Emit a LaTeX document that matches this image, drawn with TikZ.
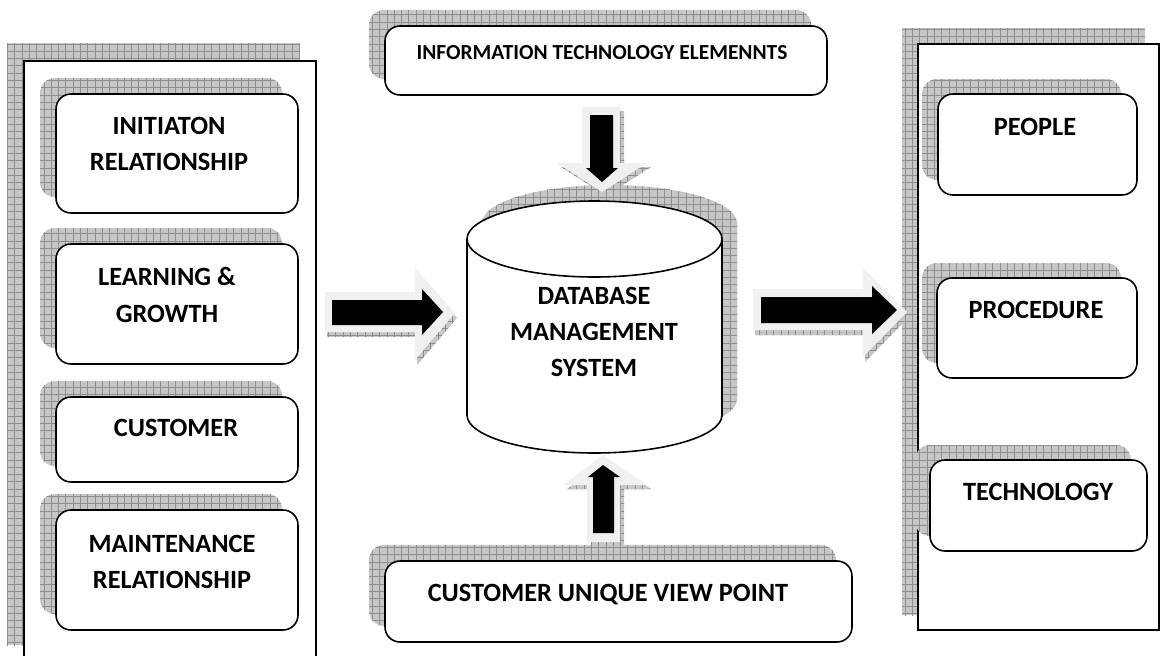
\documentclass[tikz,border=0pt]{standalone}
\usepackage{fontspec}
\setmainfont{Carlito}
\definecolor{shgray}{HTML}{C6C6C6}
\definecolor{gridc}{HTML}{8E8E8E}
\definecolor{arrowlight}{HTML}{F0F0F0}
\begin{document}
\begin{tikzpicture}[x=0.02cm,y=-0.02cm,
  shadowfill/.style={fill=shgray, draw=none, path picture={\draw[gridc,line width=0.3pt] ([shift={(-20,-20)}]path picture bounding box.north west) grid[step=0.146cm] ([shift={(20,20)}]path picture bounding box.south east);}},
  boxshadow/.style={shadowfill, rounded corners=0.3cm},
  roundbox/.style={fill=white, draw=black, line width=0.9pt, rounded corners=0.3cm},
  panel/.style={fill=white, draw=black, line width=0.8pt},
  lbl/.style={font=\bfseries\fontsize{15}{20.6}\selectfont, align=center, inner sep=0pt},
  smalllbl/.style={font=\bfseries\fontsize{12.2}{14}\selectfont, align=center, inner sep=0pt},
  arrowout/.style={fill=arrowlight, draw=none},
  arrowin/.style={fill=black, draw=none}
]
\useasboundingbox (0,0) rectangle (1161,656);

% ---------- left panel ----------
\path[shadowfill] (7,43) rectangle (300,645);
\fill[white] (24,61) rectangle (316,656);
\draw[line width=0.8pt] (24,656) -- (24,61) -- (316,61) -- (316,656);

\path[boxshadow] (40,78) rectangle (282,197);
\draw[roundbox] (56,94) rectangle (298,213);
\node[lbl] (initiation) at (169,144) {INITIATON\\RELATIONSHIP};

\path[boxshadow] (40,228) rectangle (282,348);
\draw[roundbox] (56,244) rectangle (298,364);
\node[lbl] (learning) at (167,295) {LEARNING \&\\GROWTH};

\path[boxshadow] (40,381) rectangle (282,466);
\draw[roundbox] (56,397) rectangle (298,482);
\node[lbl] (customer) at (176,428) {CUSTOMER};

\path[boxshadow] (40,494) rectangle (282,614);
\draw[roundbox] (56,510) rectangle (298,630);
\node[lbl] (maintenance) at (172,562) {MAINTENANCE\\RELATIONSHIP};

% ---------- right panel ----------
\path[shadowfill] (902,28) rectangle (1145,615);
\draw[panel] (918,44) rectangle (1159,630);

\path[boxshadow] (922,79) rectangle (1121,180);
\draw[roundbox] (938,94) rectangle (1137,195);
\node[lbl] (people) at (1035,127) {PEOPLE};

\path[boxshadow] (922,263) rectangle (1121,363);
\draw[roundbox] (937,278) rectangle (1137,378);
\node[lbl] (procedure) at (1036,310) {PROCEDURE};

\path[boxshadow] (915,445) rectangle (1131,536);
\draw[roundbox] (930,460) rectangle (1147,551);
\node[lbl] (technology) at (1038,492) {TECHNOLOGY};

% ---------- top box ----------
\path[boxshadow] (369,10) rectangle (811,79);
\draw[roundbox] (385,26) rectangle (827,95);
\node[smalllbl] (itel) at (602,53) {INFORMATION TECHNOLOGY ELEMENNTS};

% ---------- bottom box ----------
\path[boxshadow] (369,545) rectangle (836,626);
\draw[roundbox] (385,561) rectangle (852,642);
\node[lbl] (cuvp) at (608,595) {CUSTOMER UNIQUE VIEW POINT};

% ---------- cylinder ----------
\path[shadowfill] (482,223) -- (482,399) arc[start angle=180, end angle=0, x radius=127.5, y radius=38] -- (737,223) arc[start angle=0, end angle=-180, x radius=127.5, y radius=38] -- cycle;
\draw[fill=white, line width=0.9pt] (467,239) -- (467,415) arc[start angle=180, end angle=0, x radius=127.5, y radius=38] -- (722,239);
\draw[fill=white, line width=0.9pt] (594.5,239) ellipse [x radius=127.5, y radius=38];
\node[lbl] (dbms) at (594,332) {DATABASE\\MANAGEMENT\\SYSTEM};

% ---------- block arrows ----------
% left arrow
\path[shadowfill] (327,297) -- (417,297) -- (417,273) -- (457,318) -- (417,365) -- (417,337) -- (327,337) -- cycle;
\path[arrowout] (325,292) -- (415,292) -- (415,268) -- (455,313) -- (415,360) -- (415,332) -- (325,332) -- cycle;
\path[arrowin] (332,300) -- (422,300) -- (422,289) -- (443,312) -- (422,335) -- (422,325) -- (332,325) -- cycle;
% right arrow
\path[shadowfill] (755,294) -- (865,294) -- (865,273) -- (909,317) -- (865,362) -- (865,335) -- (755,335) -- cycle;
\path[arrowout] (753,289) -- (863,289) -- (863,268) -- (907,312) -- (863,357) -- (863,330) -- (753,330) -- cycle;
\path[arrowin] (761,297) -- (872,297) -- (872,286) -- (897,310) -- (872,334) -- (872,323) -- (761,323) -- cycle;
% down arrow
\path[shadowfill] (586,111) -- (624,111) -- (624,167) -- (651,167) -- (606,196) -- (561,167) -- (586,167) -- cycle;
\path[arrowout] (582,107) -- (620,107) -- (620,163) -- (647,163) -- (602,192) -- (557,163) -- (582,163) -- cycle;
\path[arrowin] (590,115) -- (613,115) -- (613,168) -- (618,168) -- (602,182) -- (586,168) -- (590,168) -- cycle;
% up arrow
\path[shadowfill] (607,459) -- (651,489) -- (624,489) -- (624,546) -- (591,546) -- (591,489) -- (567,489) -- cycle;
\path[arrowout] (603,455) -- (647,485) -- (620,485) -- (620,542) -- (587,542) -- (587,485) -- (563,485) -- cycle;
\path[arrowin] (603,465) -- (620,477) -- (614,477) -- (614,533) -- (593,533) -- (593,477) -- (588,477) -- cycle;
\end{tikzpicture}
\end{document}
